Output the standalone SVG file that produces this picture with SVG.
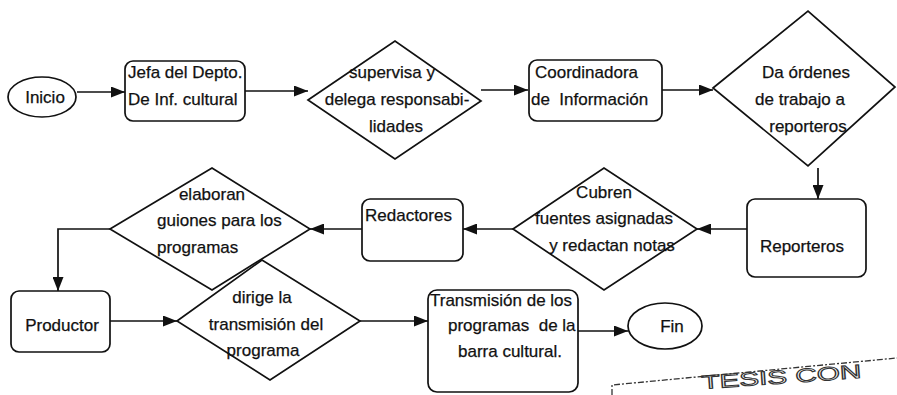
<svg xmlns="http://www.w3.org/2000/svg" width="897" height="395" viewBox="0 0 897 395">
  <style>
    .shape { fill: #ffffff; stroke: #111111; stroke-width: 1.7; }
    .lbl { font-family: "Liberation Sans", Arial, sans-serif; font-size: 17px; fill: #111111; stroke: #111111; stroke-width: 0.25; }
    .mid { text-anchor: middle; }
    .wire { fill: none; stroke: #111111; stroke-width: 1.7; }
    .stamp { font-family: "Liberation Sans", Arial, sans-serif; font-size: 19px; fill: none; stroke: #333333; stroke-width: 1; }
  </style>
  <defs>
    <marker id="head" viewBox="0 0 14 11" refX="14" refY="5.5" markerWidth="14" markerHeight="11" markerUnits="userSpaceOnUse" orient="auto">
      <path d="M0,0 L14,5.5 L0,11 Z" fill="#111111"/>
    </marker>
  </defs>
  <rect width="897" height="395" fill="#ffffff"/>

  <!-- connectors -->
  <g id="connectors">
    <line class="wire" x1="77" y1="92" x2="125" y2="92" marker-end="url(#head)"/>
    <line class="wire" x1="245" y1="91" x2="308" y2="91" marker-end="url(#head)"/>
    <line class="wire" x1="481" y1="90" x2="528" y2="90" marker-end="url(#head)"/>
    <line class="wire" x1="662" y1="90" x2="713" y2="90" marker-end="url(#head)"/>
    <line class="wire" x1="818" y1="168" x2="818" y2="199" marker-end="url(#head)"/>
    <line class="wire" x1="747" y1="229" x2="697" y2="229" marker-end="url(#head)"/>
    <line class="wire" x1="513" y1="229" x2="463" y2="229" marker-end="url(#head)"/>
    <line class="wire" x1="362" y1="229" x2="310" y2="229" marker-end="url(#head)"/>
    <polyline class="wire" points="110,229 58,229 58,291" marker-end="url(#head)"/>
    <line class="wire" x1="110" y1="321" x2="177" y2="321" marker-end="url(#head)"/>
    <line class="wire" x1="360" y1="321" x2="428" y2="321" marker-end="url(#head)"/>
    <line class="wire" x1="578" y1="331" x2="628" y2="331" marker-end="url(#head)"/>
  </g>

  <!-- row 1 -->
  <g id="inicio">
    <ellipse class="shape" cx="42" cy="97" rx="34" ry="20"/>
    <text class="lbl mid" x="45" y="103">Inicio</text>
  </g>
  <g id="jefa">
    <rect class="shape" x="125" y="61" width="120" height="60" rx="8"/>
    <text class="lbl" x="128" y="78">Jefa del Depto.</text>
    <text class="lbl" x="128" y="105">De Inf. cultural</text>
  </g>
  <g id="supervisa">
    <polygon class="shape" points="308,100 395,41 481,101 395,159"/>
    <text class="lbl mid" x="392" y="78">supervisa y</text>
    <text class="lbl mid" x="397" y="105">delega responsabi-</text>
    <text class="lbl mid" x="396" y="132">lidades</text>
  </g>
  <g id="coordinadora">
    <rect class="shape" x="529" y="60" width="133" height="61" rx="8"/>
    <text class="lbl" x="535" y="78">Coordinadora</text>
    <text class="lbl" x="531" y="105" xml:space="preserve">de  Información</text>
  </g>
  <g id="ordenes">
    <polygon class="shape" points="713,88 808,11 895,87 808,166"/>
    <text class="lbl mid" x="806" y="78">Da órdenes</text>
    <text class="lbl mid" x="800" y="105">de trabajo a</text>
    <text class="lbl mid" x="808" y="132">reporteros</text>
  </g>

  <!-- row 2 -->
  <g id="reporteros">
    <rect class="shape" x="747" y="199" width="119" height="78" rx="8"/>
    <text class="lbl mid" x="802" y="252">Reporteros</text>
  </g>
  <g id="cubren">
    <polygon class="shape" points="513,229 604,168 697,229 604,290"/>
    <text class="lbl mid" x="604" y="198">Cubren</text>
    <text class="lbl mid" x="604" y="224">fuentes asignadas</text>
    <text class="lbl mid" x="612" y="251">y redactan notas</text>
  </g>
  <g id="redactores">
    <rect class="shape" x="362" y="199" width="101" height="62" rx="8"/>
    <text class="lbl" x="365" y="221">Redactores</text>
  </g>
  <g id="elaboran">
    <polygon class="shape" points="110,229 212,168 310,229 212,290"/>
    <text class="lbl mid" x="212" y="200">elaboran</text>
    <text class="lbl" x="157" y="226">guiones para los</text>
    <text class="lbl" x="157" y="253">programas</text>
  </g>

  <!-- row 3 -->
  <g id="productor">
    <rect class="shape" x="11" y="291" width="99" height="61" rx="8"/>
    <text class="lbl mid" x="62" y="331">Productor</text>
  </g>
  <g id="dirige">
    <polygon class="shape" points="177,321 262,260 360,321 270,380"/>
    <text class="lbl mid" x="262" y="303">dirige la</text>
    <text class="lbl mid" x="266" y="330">transmisión del</text>
    <text class="lbl mid" x="263" y="356">programa</text>
  </g>
  <g id="transmision">
    <rect class="shape" x="428" y="290" width="150" height="102" rx="9"/>
    <text class="lbl" x="430" y="306">Transmisión de los</text>
    <text class="lbl" x="448" y="331" xml:space="preserve">programas  de la</text>
    <text class="lbl" x="458" y="357">barra cultural.</text>
  </g>
  <g id="fin">
    <ellipse class="shape" cx="665" cy="326" rx="37" ry="23"/>
    <text class="lbl mid" x="672" y="332">Fin</text>
  </g>

  <!-- stamp at the lower right -->
  <g id="stamp">
    <polyline points="612,395 612,385 897,358" fill="none" stroke="#333333" stroke-width="1.3" stroke-dasharray="6 2 2 2"/>
    <text class="stamp" x="702" y="389" textLength="160" lengthAdjust="spacingAndGlyphs" transform="rotate(-4 702 389)">TESIS CON</text>
  </g>
</svg>
